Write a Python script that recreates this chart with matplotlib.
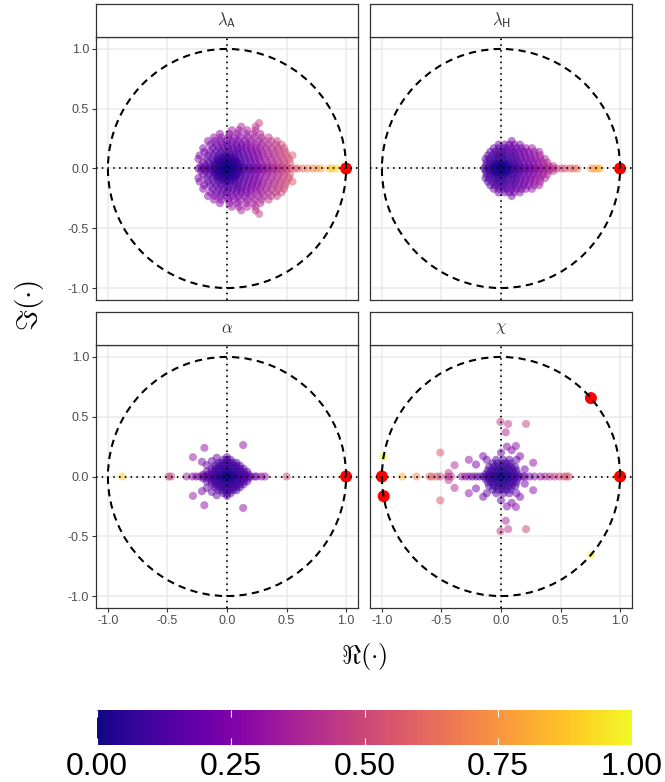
import numpy as np
import matplotlib
matplotlib.use('Agg')
import matplotlib.pyplot as plt
from matplotlib import cm, colors
from matplotlib.patches import Circle

plt.rcParams['font.family'] = ['Liberation Sans', 'DejaVu Sans']
plt.rcParams['mathtext.fontset'] = 'cm'

# ---- data: eigenvalues (upper half rows are mirrored as conjugate pairs) ----
lamA_real = [-0.24, -0.21, -0.18, -0.15, -0.12, -0.09, -0.06, -0.03, 0.0, 0.03, 0.06,
             0.09, 0.12, 0.15, 0.18, 0.21, 0.24, 0.27, 0.3, 0.33, 0.36, 0.39, 0.42,
             0.45, 0.48, 0.51, 0.54, 0.57, 0.594, 0.636, 0.678, 0.72, 0.755, 0.789,
             0.858, 0.886, 0.922]
lamA_rows = [
    (0.01, [-0.1, -0.07, -0.04, -0.02, 0.0, 0.02, 0.04, 0.07, 0.1]),
    (0.02, [-0.22, -0.18, -0.14, -0.1, -0.06, -0.03, 0.0, 0.03, 0.06, 0.1, 0.14, 0.18,
            0.22, 0.26, 0.3, 0.34, 0.38, 0.42, 0.46, 0.5]),
    (0.035, [-0.1, -0.08, -0.04, -0.02, 0.0, 0.02, 0.04, 0.08, 0.1]),
    (0.05, [-0.2, -0.15, -0.11, -0.07, -0.04, -0.01, 0.02, 0.05, 0.08, 0.12, 0.16, 0.2,
            0.24, 0.28, 0.33, 0.38, 0.43, 0.48, 0.53]),
    (0.065, [-0.08, -0.06, -0.02, 0.0, 0.02, 0.06, 0.08]),
    (0.08, [-0.24, -0.17, -0.12, -0.08, -0.05, -0.02, 0.01, 0.04, 0.07, 0.11, 0.15, 0.19,
            0.23, 0.27, 0.32, 0.37, 0.42, 0.47, 0.52]),
    (0.095, [-0.04, 0.0, 0.04]),
    (0.11, [-0.23, -0.16, -0.11, -0.07, -0.03, 0.0, 0.03, 0.07, 0.1, 0.14, 0.18, 0.22,
            0.26, 0.3, 0.35, 0.4, 0.45, 0.5, 0.55]),
    (0.14, [-0.19, -0.14, -0.09, -0.05, -0.01, 0.02, 0.06, 0.09, 0.13, 0.17, 0.21, 0.25,
            0.29, 0.34, 0.39, 0.44, 0.49]),
    (0.17, [-0.2, -0.12, -0.07, -0.03, 0.01, 0.05, 0.09, 0.12, 0.16, 0.2, 0.24, 0.28,
            0.33, 0.38, 0.43, 0.48]),
    (0.2, [-0.14, -0.09, -0.04, 0.0, 0.04, 0.08, 0.12, 0.16, 0.2, 0.25, 0.3, 0.35, 0.41, 0.46]),
    (0.23, [-0.16, -0.1, -0.05, 0.0, 0.05, 0.1, 0.15, 0.2, 0.26, 0.31, 0.37, 0.42]),
    (0.26, [-0.11, -0.05, 0.01, 0.06, 0.11, 0.17, 0.23, 0.29, 0.35]),
    (0.29, [-0.06, 0.02, 0.09, 0.16, 0.22, 0.28]),
    (0.32, [0.04, 0.1, 0.17, 0.24]),
    (0.35, [0.12, 0.24]),
    (0.38, [0.27]),
]
lamA_red = [(1.0, 0.0)]

lamH_real = [-0.14, -0.11, -0.08, -0.05, -0.02, 0.0, 0.02, 0.05, 0.08, 0.11, 0.14, 0.17,
             0.2, 0.23, 0.26, 0.29, 0.32, 0.35, 0.38, 0.41, 0.44, 0.47, 0.51, 0.54, 0.58,
             0.61, 0.64, 0.756, 0.783, 0.81, 0.83]
lamH_rows = [
    (0.01, [-0.06, -0.03, 0.0, 0.03, 0.06]),
    (0.02, [-0.13, -0.1, -0.07, -0.04, -0.02, 0.0, 0.02, 0.04, 0.07, 0.1, 0.13, 0.16,
            0.2, 0.24, 0.28, 0.32, 0.36, 0.4, 0.44]),
    (0.035, [-0.05, -0.02, 0.01, 0.04]),
    (0.05, [-0.12, -0.09, -0.06, -0.03, 0.0, 0.03, 0.06, 0.09, 0.12, 0.15, 0.19, 0.23,
            0.27, 0.31, 0.35, 0.39]),
    (0.08, [-0.13, -0.1, -0.06, -0.03, 0.0, 0.03, 0.06, 0.1, 0.13, 0.17, 0.21, 0.25,
            0.29, 0.33, 0.37]),
    (0.11, [-0.11, -0.07, -0.04, -0.01, 0.02, 0.05, 0.09, 0.12, 0.16, 0.2, 0.24, 0.28, 0.33]),
    (0.14, [-0.09, -0.05, -0.02, 0.01, 0.04, 0.08, 0.11, 0.15, 0.19, 0.23, 0.28, 0.32]),
    (0.17, [-0.06, -0.02, 0.02, 0.05, 0.09, 0.13, 0.17, 0.21, 0.26]),
    (0.2, [-0.02, 0.03, 0.07, 0.11, 0.16]),
    (0.23, [0.09]),
]
lamH_red = [(1.0, 0.0)]

alpha_real = [-0.88, -0.49, -0.47, -0.34, -0.29, -0.26, -0.23, -0.2, -0.17, -0.14, -0.11,
              -0.08, -0.05, -0.02, 0.0, 0.02, 0.05, 0.08, 0.11, 0.14, 0.17, 0.2, 0.23,
              0.25, 0.29, 0.32, 0.5]
alpha_rows = [
    (0.015, [-0.2, -0.16, -0.12, -0.09, -0.06, -0.03, 0.0, 0.03, 0.06, 0.09, 0.12, 0.15, 0.18]),
    (0.04, [-0.17, -0.13, -0.1, -0.07, -0.04, -0.01, 0.02, 0.05, 0.08, 0.11, 0.14, 0.17]),
    (0.065, [-0.13, -0.1, -0.07, -0.04, -0.01, 0.02, 0.05, 0.08, 0.11, 0.14]),
    (0.09, [-0.1, -0.07, -0.04, -0.01, 0.02, 0.05, 0.08, 0.11]),
    (0.115, [-0.07, -0.04, -0.01, 0.02, 0.05, 0.08]),
    (0.14, [-0.03, 0.0, 0.03]),
]
alpha_extra = [(-0.19, 0.24), (0.136, 0.263), (-0.286, 0.162), (-0.21, 0.123),
               (-0.17, 0.095), (-0.128, 0.129), (-0.086, 0.157), (0.0, 0.162)]
alpha_red = [(1.0, 0.0)]

chi_real = [-0.83, -0.71, -0.6, -0.58, -0.54, -0.51, -0.45, -0.42, -0.33, -0.3, -0.27,
            -0.24, -0.21, -0.18, -0.15, -0.12, -0.09, -0.06, -0.03, 0.0, 0.03, 0.06,
            0.09, 0.12, 0.15, 0.18, 0.2, 0.24, 0.28, 0.33, 0.37, 0.41, 0.45, 0.49,
            0.53, 0.55, 0.57, 0.97]
chi_rows = [
    (0.02, [-0.13, -0.1, -0.07, -0.04, -0.01, 0.02, 0.05, 0.08, 0.11, 0.14]),
    (0.05, [-0.11, -0.08, -0.05, -0.02, 0.01, 0.04, 0.07, 0.1, 0.13]),
    (0.08, [-0.1, -0.06, -0.03, 0.0, 0.03, 0.06, 0.09, 0.12]),
    (0.11, [-0.07, -0.03, 0.01, 0.04, 0.08]),
    (0.14, [-0.12, -0.04, 0.02, 0.07, 0.13]),
]
chi_extra = [(-0.15, 0.17), (-0.21, 0.1), (-0.27, 0.14), (-0.39, 0.095), (-0.44, 0.03),
             (-0.51, 0.2), (0.0, 0.2), (0.05, 0.25), (0.09, 0.22), (0.125, 0.255),
             (0.16, 0.17), (0.27, 0.115), (0.2, 0.06), (0.04, 0.37), (0.06, 0.44),
             (0.21, 0.44), (-0.005, 0.457)]
chi_single = [(-0.985, 0.165), (0.755, -0.656)]
chi_red = [(1.0, 0.0), (-1.0, 0.0), (-0.985, -0.165), (0.755, 0.656)]

tick_vals = [-1.0, -0.5, 0.0, 0.5, 1.0]
tick_labels = ['-1.0', '-0.5', '0.0', '0.5', '1.0']
cbar_ticks = [0.0, 0.25, 0.5, 0.75, 1.0]
cbar_labels = ['0.00', '0.25', '0.50', '0.75', '1.00']


def build(real, rows, extra=(), single=()):
    z = [complex(x, 0) for x in real]
    for y, xs in rows:
        for x in xs:
            z += [complex(x, y), complex(x, -y)]
    for x, y in extra:
        z += [complex(x, y), complex(x, -y)]
    z += [complex(x, y) for x, y in single]
    return np.array(z)


W, H = 665, 782
fig = plt.figure(figsize=(W / 100, H / 100), dpi=100)


def px_axes(x0, y0, x1, y1):
    return fig.add_axes([x0 / W, 1 - y1 / H, (x1 - x0) / W, (y1 - y0) / H])


def draw_panel(box, z, red, label, left, bottom):
    x0, y0, x1, y1 = box
    ax = px_axes(x0, y0, x1, y1)
    sax = px_axes(x0, y0 - 33, x1, y0)
    ax.set_xlim(-1.1, 1.1)
    ax.set_ylim(-1.1, 1.1)
    ax.set_xticks(tick_vals)
    ax.set_yticks(tick_vals)
    ax.set_xticklabels(tick_labels)
    ax.set_yticklabels(tick_labels)
    ax.grid(color='#EBEBEB', lw=1.1)
    ax.set_axisbelow(True)
    mod = np.abs(z)
    order = np.argsort(-mod)
    ax.scatter(z.real[order], z.imag[order], c=mod[order], cmap='plasma', vmin=0, vmax=1,
               s=34, alpha=0.5, edgecolors='none', zorder=2)
    rx, ry = zip(*red)
    ax.scatter(rx, ry, color='#FF0000', s=75, edgecolors='none', zorder=3)
    ax.add_patch(Circle((0, 0), 1.0, fill=False, color='black', lw=1.5,
                        ls=(0, (3.5, 2.5)), zorder=4))
    ax.axhline(0, color='black', lw=1.3, ls=(0, (0.8, 2.4)), zorder=5)
    ax.axvline(0, color='black', lw=1.3, ls=(0, (0.8, 2.4)), zorder=5)
    for sp in ax.spines.values():
        sp.set_color('#333333')
        sp.set_linewidth(0.9)
    ax.tick_params(length=3, width=0.8, color='#333333', labelcolor='#4D4D4D',
                   labelsize=9, pad=2)
    if not left:
        ax.tick_params(axis='y', left=False, labelleft=False)
    if not bottom:
        ax.tick_params(axis='x', bottom=False, labelbottom=False)
    sax.set_xticks([])
    sax.set_yticks([])
    for sp in sax.spines.values():
        sp.set_color('#333333')
        sp.set_linewidth(0.9)
    sax.text(0.5, 0.5, label, ha='center', va='center', fontsize=12, color='#333333',
             transform=sax.transAxes)


draw_panel((96, 37, 358, 300), build(lamA_real, lamA_rows), lamA_red,
           r'$\lambda_{\mathsf{A}}$', True, False)
draw_panel((370, 37, 632, 300), build(lamH_real, lamH_rows), lamH_red,
           r'$\lambda_{\mathsf{H}}$', False, False)
draw_panel((96, 345, 358, 608), build(alpha_real, alpha_rows, alpha_extra), alpha_red,
           r'$\alpha$', True, True)
draw_panel((370, 345, 632, 608), build(chi_real, chi_rows, chi_extra, chi_single), chi_red,
           r'$\chi$', False, True)

fig.text(30 / W, 1 - 306 / H, r'$\Im(\cdot)$', rotation=90, fontsize=21,
         ha='center', va='center')
fig.text(364 / W, 1 - 657 / H, r'$\Re(\cdot)$', fontsize=19, ha='center', va='center')

cax = px_axes(97, 710, 632, 745)
sm = cm.ScalarMappable(norm=colors.Normalize(0, 1), cmap='plasma')
cb = fig.colorbar(sm, cax=cax, orientation='horizontal')
cb.outline.set_visible(False)
cb.set_ticks(cbar_ticks)
cb.set_ticklabels(cbar_labels)
cax.tick_params(axis='x', direction='in', color='white', length=5, width=0.8,
                top=True, labelsize=23, pad=5, labelcolor='black')

fig.savefig('out.png', dpi=100)
